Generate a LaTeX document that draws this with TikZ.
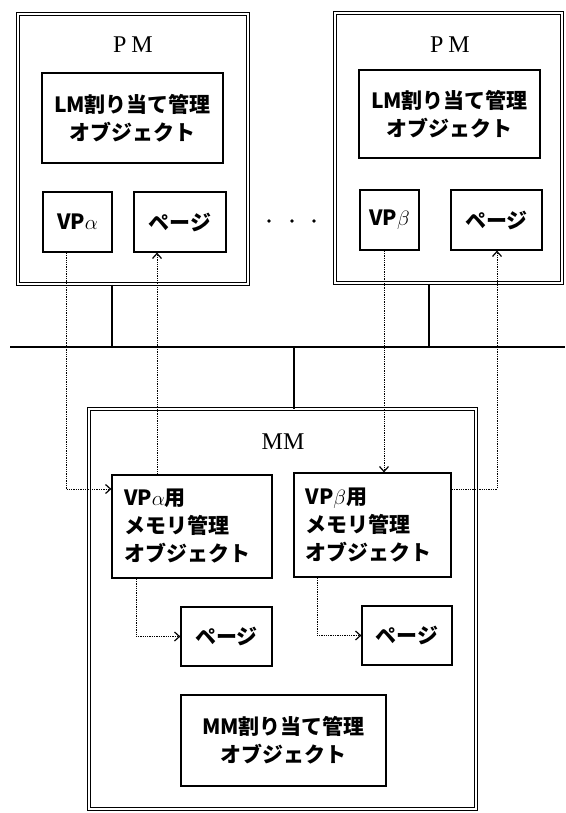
\documentclass[tikz,border=0pt]{standalone}
\usepackage{fontspec}
\usepackage{tikz}
\usetikzlibrary{arrows.meta}
\newfontfamily\jpfont{Noto Sans CJK JP}
\newfontfamily\titlefont{Liberation Serif}
\begin{document}
\begin{tikzpicture}[x=1pt,y=-1pt,line width=1.1pt,
  unit/.style={draw,double,line width=1pt,double distance=1.8pt,inner sep=0pt},
  obj/.style={draw,line width=1.2pt,inner sep=0pt,font=\jpfont\bfseries\fontsize{21}{28}\selectfont,align=center},
  title/.style={font=\titlefont\fontsize{24}{28}\selectfont},
  link/.style={line width=1pt,dash pattern=on 1.3pt off 1pt,-{Straight Barb[length=5pt,width=9pt,line width=1.2pt]}}]
\useasboundingbox (0,0) rectangle (565,813);

% processor modules
\node[unit,minimum width=230pt,minimum height=270pt] (pmL) at (133,149) {};
\node[unit,minimum width=227pt,minimum height=270pt] (pmR) at (448.5,148) {};
\node[title] (pmLt) at (133,45) {P\kern5pt M};
\node[title] (pmRt) at (450,45) {P\kern5pt M};
\node[obj,minimum width=181pt,minimum height=90pt] (lmL) at (132.5,118) {LM割り当て管理\\オブジェクト};
\node[obj,minimum width=181pt,minimum height=88pt] (lmR) at (449.5,114) {LM割り当て管理\\オブジェクト};
\node[obj,minimum width=69pt,minimum height=60pt] (vpA) at (77.5,222) {VP$\alpha$};
\node[obj,minimum width=92pt,minimum height=60pt] (pgA) at (180,222) {ページ};
\node[obj,minimum width=59pt,minimum height=60pt] (vpB) at (389.5,220) {VP$\beta$};
\node[obj,minimum width=91pt,minimum height=60pt] (pgB) at (496.5,220) {ページ};
\foreach \x in {269,292,314}
  \fill (\x,221) circle (1.8pt);

% bus
\coordinate (busL) at (10,347);
\coordinate (busR) at (565,347);
\draw (busL) -- (busR);
\draw (pmL.south -| 112,0) -- (busL -| 112,0);
\draw (pmR.south -| 429,0) -- (busL -| 429,0);

% main memory
\node[unit,minimum width=387pt,minimum height=400pt] (mm) at (282.5,609) {};
\draw (busL -| 294,0) -- (mm.north -| 294,0);
\node[title] (mmt) at (283,442) {MM};
\node[obj,minimum width=160pt,minimum height=103pt,align=left,text width=136pt] (vpAm) at (192,526.5) {VP$\alpha$用\\メモリ管理\\オブジェクト};
\node[obj,minimum width=157pt,minimum height=104pt,align=left,text width=134pt] (vpBm) at (372.5,525) {VP$\beta$用\\メモリ管理\\オブジェクト};
\node[obj,minimum width=91pt,minimum height=59pt] (pgAm) at (226.5,636.5) {ページ};
\node[obj,minimum width=90pt,minimum height=59pt] (pgBm) at (407,635.5) {ページ};
\node[obj,minimum width=205pt,minimum height=91pt] (mmalloc) at (283.5,740.5) {MM割り当て管理\\オブジェクト};

% links
\draw[link] (vpA.south -| 66,0) |- (vpAm.west |- 0,489);
\draw[link] (vpAm.north -| 157,0) -- (pgA.south -| 157,0);
\draw[link] (vpB.south -| 384,0) -- (vpBm.north -| 384,0);
\draw[link] (vpBm.east |- 0,489) -| (pgB.south -| 497,0);
\draw[link] (vpAm.south -| 136,0) |- (pgAm.west);
\draw[link] (vpBm.south -| 317,0) |- (pgBm.west);
\end{tikzpicture}
\end{document}
